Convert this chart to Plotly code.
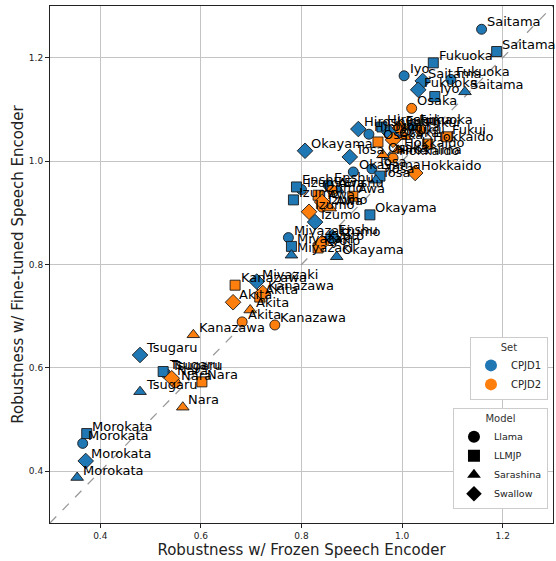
import plotly.graph_objects as go

# ---- data ----
# CPJD1 points: region, model, frozen (x), fine-tuned (y)
cpjd1_region = ["Saitama", "Saitama", "Saitama", "Saitama",
                "Fukuoka", "Fukuoka", "Fukuoka", "Fukuoka",
                "Iyo", "Iyo", "Iyo", "Iyo",
                "Hiroshima", "Hiroshima", "Hiroshima", "Hiroshima",
                "Tosa", "Tosa", "Tosa", "Tosa",
                "Okayama", "Okayama", "Okayama", "Okayama",
                "Enshu", "Enshu", "Enshu", "Enshu",
                "Izumo", "Izumo", "Izumo", "Izumo",
                "Miyazaki", "Miyazaki", "Miyazaki", "Miyazaki",
                "Tsugaru", "Tsugaru", "Tsugaru", "Tsugaru",
                "Morokata", "Morokata", "Morokata", "Morokata"]
cpjd1_model = ["Llama", "LLMJP", "Sarashina", "Swallow"] * 11
cpjd1_x = [1.158, 1.188, 1.125, 1.041,
           1.097, 1.062, 1.022, 1.032,
           1.004, 1.065, 0.990, 0.975,
           0.934, 0.960, 0.976, 0.913,
           0.940, 0.956, 0.948, 0.896,
           0.903, 0.936, 0.870, 0.807,
           0.853, 0.790, 0.873, 0.861,
           0.800, 0.784, 0.868, 0.827,
           0.774, 0.780, 0.780, 0.711,
           0.529, 0.525, 0.479, 0.479,
           0.365, 0.373, 0.354, 0.371]
cpjd1_y = [1.255, 1.212, 1.134, 1.155,
           1.158, 1.190, 1.066, 1.138,
           1.165, 1.125, 1.050, 1.055,
           1.052, 1.066, 1.008, 1.062,
           0.985, 0.971, 0.963, 1.008,
           0.979, 0.896, 0.815, 1.020,
           0.954, 0.950, 0.944, 0.853,
           0.945, 0.925, 0.850, 0.882,
           0.852, 0.835, 0.818, 0.767,
           0.590, 0.593, 0.554, 0.625,
           0.454, 0.473, 0.388, 0.420]

# CPJD2 points
cpjd2_region = ["Osaka", "Osaka", "Osaka", "Osaka",
                "Fukui", "Fukui", "Fukui", "Fukui",
                "Hokkaido", "Hokkaido", "Hokkaido", "Hokkaido",
                "Awa", "Awa", "Awa", "Awa",
                "Izumo", "Izumo", "Izumo",
                "Kyoto", "Kyoto",
                "Kanazawa", "Kanazawa", "Kanazawa", "Kanazawa",
                "Akita", "Akita", "Akita", "Akita",
                "Nara", "Nara", "Nara", "Nara"]
cpjd2_model = ["Llama", "LLMJP", "Sarashina", "Swallow",
               "Llama", "LLMJP", "Sarashina", "Swallow",
               "Llama", "LLMJP", "Sarashina", "Swallow",
               "Llama", "LLMJP", "Sarashina", "Swallow",
               "Llama", "LLMJP", "Swallow",
               "LLMJP", "Swallow",
               "Llama", "LLMJP", "Sarashina", "Swallow",
               "Llama", "LLMJP", "Sarashina", "Swallow",
               "Llama", "LLMJP", "Sarashina", "Swallow"]
cpjd2_x = [1.019, 0.952, 0.962, 0.982,
           1.036, 1.089, 1.006, 0.996,
           0.982, 1.051, 0.992, 1.026,
           0.861, 0.902, 0.857, 0.841,
           0.841, 0.833, 0.815,
           0.833, 0.841,
           0.747, 0.668, 0.585, 0.723,
           0.682, 0.717, 0.698, 0.664,
           0.549, 0.602, 0.564, 0.542]
cpjd2_y = [1.102, 1.037, 1.012, 1.041,
           1.060, 1.047, 1.047, 1.064,
           1.006, 1.033, 1.021, 0.977,
           0.944, 0.932, 0.909, 0.921,
           0.911, 0.934, 0.902,
           0.832, 0.842,
           0.683, 0.760, 0.664, 0.745,
           0.689, 0.737, 0.712, 0.727,
           0.571, 0.573, 0.524, 0.580]

set_names = ["CPJD1", "CPJD2"]
set_colors = ["#1f77b4", "#ff7f0e"]
model_names = ["Llama", "LLMJP", "Sarashina", "Swallow"]
model_symbols = ["circle", "square", "triangle-up", "diamond"]
model_sizes = [10, 10, 11, 12]
diag = [0.3, 1.3]
tick_vals = [0.4, 0.6, 0.8, 1.0, 1.2]

FONT = "DejaVu Sans"
fig = go.Figure()

# diagonal reference line
fig.add_trace(go.Scatter(x=diag, y=diag, mode="lines",
                         line=dict(color="#9a9a9a", width=1.3, dash="dash"),
                         showlegend=False, hoverinfo="skip"))

sets = [(cpjd1_region, cpjd1_model, cpjd1_x, cpjd1_y),
        (cpjd2_region, cpjd2_model, cpjd2_x, cpjd2_y)]

annotations = []
for si, (reg, mod, xs, ys) in enumerate(sets):
    for mi, m in enumerate(model_names):
        idx = [i for i, mm in enumerate(mod) if mm == m]
        fig.add_trace(go.Scatter(
            x=[xs[i] for i in idx], y=[ys[i] for i in idx],
            mode="markers",
            marker=dict(symbol=model_symbols[mi], size=model_sizes[mi],
                        color=set_colors[si],
                        line=dict(color="#1a1a1a", width=0.9)),
            showlegend=False))
    for i in range(len(reg)):
        annotations.append(dict(x=xs[i], y=ys[i], xref="x", yref="y",
                                text=reg[i], showarrow=False,
                                xanchor="left", yanchor="middle",
                                xshift=3.5, yshift=7.5,
                                font=dict(family=FONT, size=13, color="black")))

# legend: Set
for si in range(2):
    fig.add_trace(go.Scatter(x=[None], y=[None], mode="markers",
                             name=set_names[si], legend="legend",
                             marker=dict(symbol="circle", size=10,
                                         color=set_colors[si])))
# legend: Model
for mi in range(4):
    fig.add_trace(go.Scatter(x=[None], y=[None], mode="markers",
                             name=model_names[mi], legend="legend2",
                             marker=dict(symbol=model_symbols[mi], size=10,
                                         color="black")))

axis_common = dict(range=[0.3, 1.3], tickvals=tick_vals, tickformat=".1f",
                   showgrid=True, gridcolor="#c4c4c4", gridwidth=1,
                   showline=True, linecolor="#222", linewidth=1, mirror=True,
                   ticks="outside", ticklen=4, tickcolor="#222",
                   tickfont=dict(family=FONT, size=9, color="#222"),
                   zeroline=False)

fig.update_layout(
    width=556, height=561,
    margin=dict(l=50, r=3, t=6, b=38),
    paper_bgcolor="white", plot_bgcolor="white",
    font=dict(family=FONT, color="#222"),
    xaxis=dict(**axis_common,
               title=dict(text="Robustness w/ Frozen Speech Encoder",
                          font=dict(family=FONT, size=15, color="#222"),
                          standoff=3)),
    yaxis=dict(**axis_common,
               title=dict(text="Robustness w/ Fine-tuned Speech Encoder",
                          font=dict(family=FONT, size=15, color="#222"),
                          standoff=1)),
    annotations=annotations,
    legend=dict(title=dict(text="Set", side="top center",
                           font=dict(family=FONT, size=10, color="#333")),
                x=0.99, xanchor="right", y=0.36, yanchor="top",
                bgcolor="white", bordercolor="#cccccc", borderwidth=1,
                font=dict(family=FONT, size=10, color="#222"),
                itemsizing="constant", tracegroupgap=0),
    legend2=dict(title=dict(text="Model", side="top center",
                            font=dict(family=FONT, size=10, color="#333")),
                 x=0.99, xanchor="right", y=0.222, yanchor="top",
                 bgcolor="white", bordercolor="#cccccc", borderwidth=1,
                 font=dict(family=FONT, size=9.5, color="#222"),
                 itemsizing="constant", tracegroupgap=0),
)

fig.write_html("out.html",
               config={"displayModeBar": False},
               post_script="document.body.style.margin='0';"
                           "document.body.style.overflow='hidden';")
